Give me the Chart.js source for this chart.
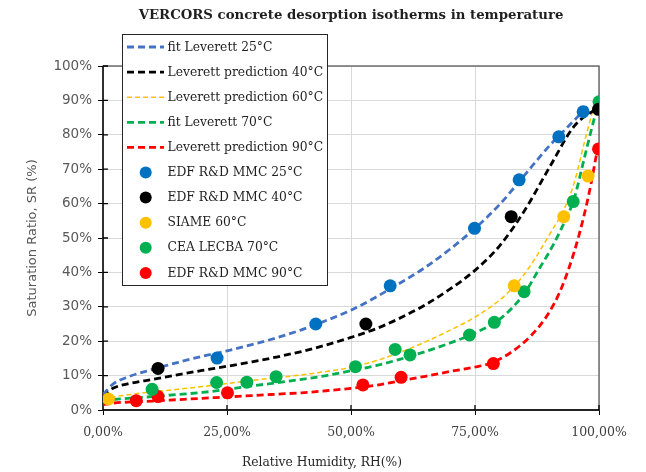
<!DOCTYPE html>
<html><head><meta charset="utf-8">
<script src="https://cdn.jsdelivr.net/npm/chart.js@4.4.1/dist/chart.umd.min.js"></script>
<style>html,body{margin:0;padding:0;background:#fff}</style>
</head><body>
<canvas id="c" width="646" height="472"></canvas>
<script>
// ---- Data (RH %, SR %) ----
const fit25_RH = [0,2,5,10,15,20,25,30,35,40,45,50,55,60,65,70,75,80,85,90,95,98];
const fit25_SR = [4.5,7.5,9.6,11.8,13.8,15.6,17.2,19,21,23.3,26,29,32.8,37,41.5,46.8,52.8,59.8,68.3,76.8,84.2,88.8];
const pred40_RH = [0,2,5,10,15,20,25,30,35,40,45,50,55,60,65,70,75,80,85,90,95,99.5];
const pred40_SR = [4,6.3,7.6,8.9,10.2,11.5,12.7,14,15.4,17,18.9,21.1,23.6,26.8,30.6,35.2,40.6,47.8,58,70.5,82.5,87.7];
const pred60_RH = [0,2,5,10,15,20,25,30,35,40,45,50,55,60,65,70,75,80,83,85,87,90,93,95,97,99];
const pred60_SR = [3,3.8,4.4,5.3,6,6.8,7.7,8.6,9.4,10.2,11.2,12.4,14.3,16.8,19.8,23.2,27,32,36.1,39.6,43.8,51,58.5,66,77.5,88.5];
const fit70_RH = [0,2,5,10,15,20,25,30,35,40,45,50,55,60,65,70,75,80,85,88,90,92,95,97,99,100];
const fit70_SR = [2.5,3,3.4,3.9,4.5,5.1,6,7,7.9,8.9,10,11.4,12.9,14.8,17,19.5,22.4,26.4,34,41.2,46,51.5,61.5,73,84.5,89.6];
const pred90_RH = [0,2,5,10,15,20,25,30,35,40,45,50,55,60,65,70,75,78,80,82,84,86,88,90,92,94,96,98,99.7];
const pred90_SR = [1.5,2,2.3,2.6,3,3.4,3.8,4.2,4.6,5,5.6,6.3,7.2,8.5,9.8,11.2,12.5,13.5,14.8,16.5,18.6,21.2,24.4,28.5,34,41.5,51,63,75.9];

const mmc25_RH = [23,42.9,57.9,74.9,83.9,91.9,96.8];
const mmc25_SR = [15.1,25,36.1,52.8,66.9,79.4,86.7];
const mmc40_RH = [11.1,53,82.3,99.9];
const mmc40_SR = [12.1,25,56.2,87.4];
const siame60_RH = [1.1,82.9,92.9,97.8];
const siame60_SR = [3.2,36.1,56.2,68];
const cea70_RH = [9.9,22.9,29,34.9,50.9,58.9,61.9,73.9,78.9,84.9,94.8,100];
const cea70_SR = [6,8,8.1,9.7,12.6,17.6,16,21.8,25.5,34.4,60.6,89.6];
const mmc90_RH = [6.7,11.1,25.1,52.4,60.1,78.7,99.9];
const mmc90_SR = [2.7,3.9,5,7.3,9.5,13.5,75.9];

const xTicks = [0,25,50,75,100];
const yTicks = [0,10,20,30,40,50,60,70,80,90,100];

const pts = (xs, ys) => xs.map((v,i)=>({x:v, y:ys[i]}));

const lineDs = (label, xs, ys, color, w, dash) => ({
  label, data: pts(xs,ys), showLine: true, borderColor: color, backgroundColor: color,
  borderWidth: w, borderDash: dash, pointRadius: 0, pointHoverRadius: 0,
  cubicInterpolationMode: 'monotone', order: 2, isLine: true
});
const pointDs = (label, xs, ys, color) => ({
  label, data: pts(xs,ys), showLine: false, borderColor: color, backgroundColor: color,
  pointRadius: 6.5, pointBorderWidth: 0, order: 1, isLine: false
});

const datasets = [
  lineDs('fit Leverett 25°C', fit25_RH, fit25_SR, '#4472C4', 2.8, [7,4]),
  lineDs('Leverett prediction 40°C', pred40_RH, pred40_SR, '#000000', 2.8, [7,4]),
  lineDs('Leverett prediction 60°C', pred60_RH, pred60_SR, '#FFC000', 1.5, [5,3]),
  lineDs('fit Leverett 70°C', fit70_RH, fit70_SR, '#00B050', 2.8, [7,4]),
  lineDs('Leverett prediction 90°C', pred90_RH, pred90_SR, '#FF0000', 2.8, [7,4]),
  pointDs('EDF R&D MMC 25°C', mmc25_RH, mmc25_SR, '#0070C0'),
  pointDs('EDF R&D MMC 40°C', mmc40_RH, mmc40_SR, '#000000'),
  pointDs('SIAME 60°C', siame60_RH, siame60_SR, '#FFC000'),
  pointDs('CEA LECBA 70°C', cea70_RH, cea70_SR, '#00B050'),
  pointDs('EDF R&D MMC 90°C', mmc90_RH, mmc90_SR, '#FF0000')
];

const deco = {
  id: 'deco',
  beforeDatasetsDraw(chart) {
    const {ctx, chartArea: a, scales: {x, y}} = chart;
    ctx.save();
    ctx.strokeStyle = '#595959'; ctx.lineWidth = 1.3;
    ctx.strokeRect(a.left, a.top, a.right - a.left, a.bottom - a.top);
    ctx.strokeStyle = '#000'; ctx.lineWidth = 1.3;
    ctx.beginPath();
    ctx.moveTo(a.left, a.top); ctx.lineTo(a.left, a.bottom); ctx.lineTo(a.right, a.bottom);
    y.ticks.forEach(t => { const p = y.getPixelForValue(t.value); ctx.moveTo(a.left, p); ctx.lineTo(a.left + 5, p); });
    x.ticks.forEach(t => { const p = x.getPixelForValue(t.value); ctx.moveTo(p, a.bottom); ctx.lineTo(p, a.bottom - 5); });
    ctx.stroke();
    ctx.restore();
  },
  afterDraw(chart) {
    const {ctx, chartArea: a} = chart;
    ctx.save();
    // title
    ctx.fillStyle = '#1f1f1f';
    ctx.font = 'bold 13.3px "DejaVu Serif"';
    ctx.textAlign = 'center'; ctx.textBaseline = 'middle';
    ctx.fillText('VERCORS concrete desorption isotherms in temperature', (a.left + a.right) / 2, 16);
    // x axis title
    ctx.font = '12.3px "DejaVu Serif"';
    ctx.fillStyle = '#262626';
    ctx.fillText('Relative Humidity, RH(%)', 322, 463);
    // y axis title
    ctx.save();
    ctx.translate(33, (a.top + a.bottom) / 2);
    ctx.rotate(-Math.PI / 2);
    ctx.font = '13px "DejaVu Sans"';
    ctx.fillStyle = '#595959';
    ctx.fillText('Saturation Ratio, SR (%)', 0, 0);
    ctx.restore();
    // legend
    const bx = 122.5, by = 34.5, bw = 205, bh = 251;
    ctx.fillStyle = '#fff';
    ctx.fillRect(bx, by, bw, bh);
    ctx.strokeStyle = '#262626'; ctx.lineWidth = 1;
    ctx.strokeRect(bx, by, bw, bh);
    ctx.font = '12.3px "DejaVu Serif"';
    ctx.textAlign = 'left'; ctx.textBaseline = 'middle';
    chart.data.datasets.forEach((ds, i) => {
      const yy = 47 + i * 25.1;
      if (ds.isLine) {
        ctx.save();
        ctx.strokeStyle = ds.borderColor; ctx.lineWidth = ds.borderWidth;
        ctx.setLineDash(ds.borderDash);
        ctx.beginPath(); ctx.moveTo(127, yy); ctx.lineTo(164, yy); ctx.stroke();
        ctx.restore();
      } else {
        ctx.fillStyle = ds.backgroundColor;
        ctx.beginPath(); ctx.arc(145.7, yy, 6, 0, Math.PI * 2); ctx.fill();
      }
      ctx.fillStyle = '#1f1f1f';
      ctx.fillText(ds.label, 167.5, yy + 0.5);
    });
    ctx.restore();
  }
};

new Chart(document.getElementById('c'), {
  type: 'scatter',
  data: { datasets },
  options: {
    responsive: false, animation: false, devicePixelRatio: 1,
    layout: { padding: { left: 0, right: 47, top: 66, bottom: 0 } },
    plugins: { legend: { display: false }, tooltip: { enabled: false }, title: { display: false } },
    scales: {
      x: {
        type: 'linear', min: 0, max: 100,
        afterFit: s => { s.height = 62; },
        afterBuildTicks: s => { s.ticks = xTicks.map(v => ({value: v})); },
        grid: { color: '#d9d9d9', lineWidth: 1, tickLength: 5, tickColor: '#000' },
        border: { display: false },
        ticks: { padding: 10, color: '#404040', font: { family: 'DejaVu Serif', size: 12.5 },
          callback: v => v.toFixed(2).replace('.', ',') + '%' }
      },
      y: {
        type: 'linear', min: 0, max: 100,
        afterFit: s => { s.width = 103; },
        afterBuildTicks: s => { s.ticks = yTicks.map(v => ({value: v})); },
        grid: { color: '#d9d9d9', lineWidth: 1, tickLength: 5, tickColor: '#000' },
        border: { display: false },
        ticks: { padding: 6, color: '#595959', font: { family: 'DejaVu Sans', size: 13.5 },
          callback: v => v + '%' }
      }
    }
  },
  plugins: [deco]
});
</script>
</body></html>
